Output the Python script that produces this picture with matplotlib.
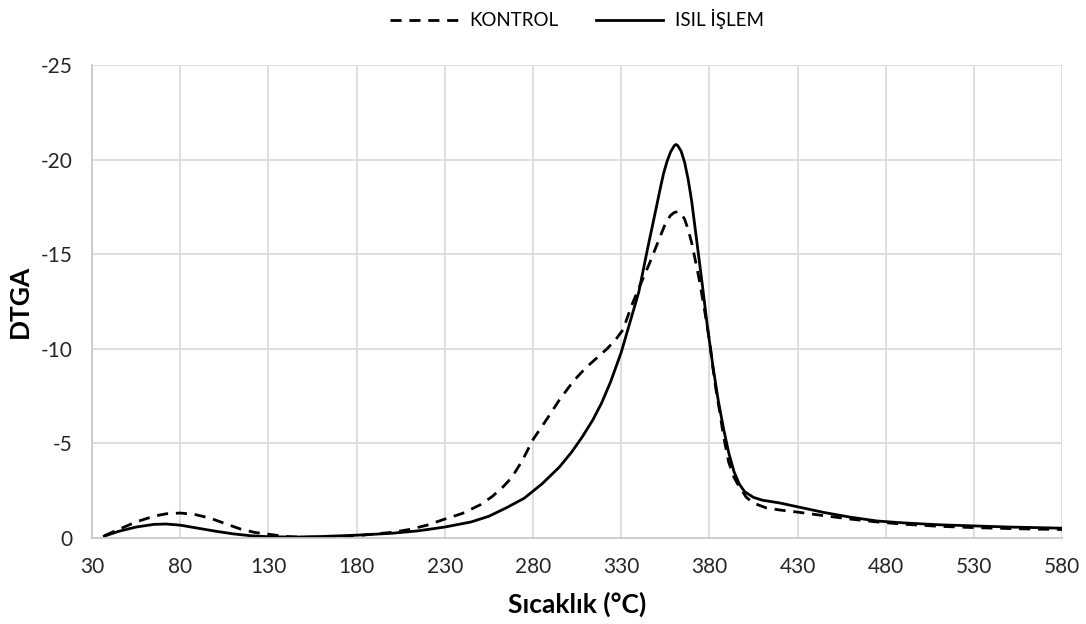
import numpy as np
import matplotlib.pyplot as plt

#Data
kontrol_t = [37, 45, 55, 65, 72, 80, 88, 97, 105, 114, 122, 130, 140, 150, 165, 180,
             200, 210, 220, 230, 240, 250, 257, 263, 268, 274, 280, 288, 295, 303, 310,
             316, 322, 327, 331, 336, 340, 346, 352, 355, 358, 360, 362, 364, 366, 368,
             370, 372, 374, 377, 380, 382, 384, 386, 388, 391, 394, 397, 401, 405, 412,
             420, 430, 445, 460, 475, 490, 510, 530, 550, 565, 580]
kontrol_v = [-0.12, -0.45, -0.85, -1.15, -1.28, -1.32, -1.25, -1.05, -0.78, -0.48, -0.3,
             -0.2, -0.08, -0.04, -0.05, -0.12, -0.3, -0.45, -0.68, -1.0, -1.3, -1.75, -2.2,
             -2.7, -3.2, -4.1, -5.2, -6.3, -7.3, -8.3, -9.0, -9.5, -10.0, -10.5, -11.0,
             -12.3, -13.2, -14.5, -15.9, -16.6, -17.05, -17.2, -17.25, -17.15, -16.85,
             -16.3, -15.6, -14.7, -13.8, -12.2, -10.5, -9.0, -7.7, -6.6, -5.4, -4.0, -3.2,
             -2.7, -2.15, -1.85, -1.6, -1.48, -1.37, -1.18, -1.0, -0.85, -0.73, -0.62,
             -0.55, -0.5, -0.47, -0.45]

isil_t = [37, 45, 55, 65, 72, 80, 90, 100, 110, 120, 130, 145, 160, 180, 200, 215, 230,
          245, 255, 265, 275, 285, 295, 302, 308, 314, 319, 324, 330, 335, 340, 345, 350,
          352, 354, 356, 358, 360, 361, 362, 364, 366, 368, 370, 373, 376, 379, 382, 385,
          388, 391, 394, 397, 400, 405, 410, 420, 430, 445, 460, 475, 490, 510, 530, 550,
          565, 580]
isil_v = [-0.1, -0.35, -0.58, -0.72, -0.74, -0.68, -0.52, -0.36, -0.22, -0.12, -0.07,
          -0.05, -0.08, -0.15, -0.25, -0.38, -0.58, -0.85, -1.15, -1.6, -2.1, -2.85, -3.75,
          -4.55, -5.35, -6.25, -7.15, -8.25, -9.8, -11.4, -13.0, -15.3, -17.5, -18.4,
          -19.25, -19.9, -20.4, -20.72, -20.8, -20.75, -20.45, -19.85, -18.95, -17.8,
          -15.6, -13.4, -11.1, -9.1, -7.3, -5.8, -4.5, -3.5, -2.85, -2.45, -2.15, -2.0,
          -1.85, -1.65, -1.35, -1.1, -0.9, -0.8, -0.7, -0.64, -0.58, -0.55, -0.52]

x_ticks = np.arange(30, 581, 50)
y_ticks = [0, -5, -10, -15, -20, -25]

plt.rcParams['font.family'] = ['Lato', 'DejaVu Sans']

fig = plt.figure(figsize=(10.86, 6.24), dpi=100)
ax = fig.add_axes([0.0847, 0.1378, 0.8933, 0.758])

ax.plot(kontrol_t, kontrol_v, color='black', lw=2.0, ls=(0, (4, 2.8)), label='KONTROL')
ax.plot(isil_t, isil_v, color='black', lw=2.0, ls='-', label='ISIL İŞLEM')

ax.set_xlim(30, 580)
ax.set_ylim(0, -25)
ax.set_xticks(x_ticks)
ax.set_yticks(y_ticks)
ax.set_yticklabels([str(v) for v in y_ticks])
ax.tick_params(length=0, labelsize=15, colors='#262626')
ax.tick_params(axis='x', pad=14)
ax.tick_params(axis='y', pad=14)
ax.grid(True, color='#d9d9d9', lw=1.2)
ax.set_axisbelow(True)
for s in ['top', 'right']:
    ax.spines[s].set_visible(False)
for s in ['left', 'bottom']:
    ax.spines[s].set_color('#c8c8c8')
    ax.spines[s].set_linewidth(1.2)

ax.set_xlabel('Sıcaklık (°C)', fontsize=19, fontweight='bold', labelpad=10)
ax.set_ylabel('DTGA', fontsize=19, fontweight='bold', labelpad=6)

ax.legend(loc='lower center', bbox_to_anchor=(0.5, 1.04), ncol=2, frameon=False,
          fontsize=13.5, handlelength=3.6, columnspacing=2.0, handletextpad=0.6)

plt.savefig('out.png', dpi=100)
